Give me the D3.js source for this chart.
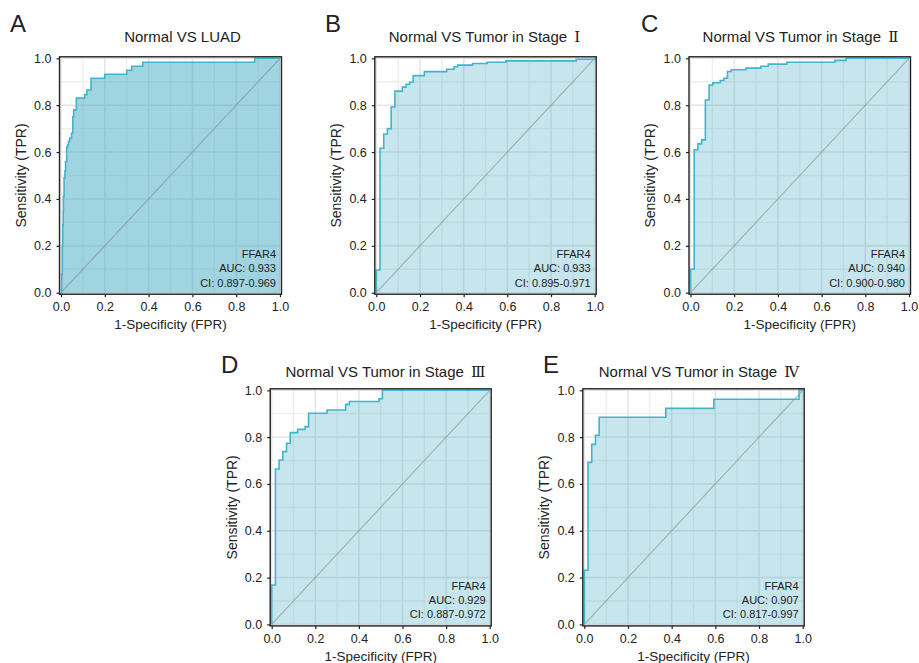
<!DOCTYPE html>
<html>
<head>
<meta charset="utf-8">
<script src="https://cdn.jsdelivr.net/npm/d3@7"></script>
<style>
  body { margin: 0; background: #fff; }
  text { font-family: "Liberation Sans", Arial, Helvetica, sans-serif; fill: #222; }
</style>
</head>
<body>
<div id="chart"></div>
<script>
// ROC panels for FFAR4

const panelLetters = ["A", "B", "C", "D", "E"];
const titleText = ["Normal VS LUAD", "Normal VS Tumor in Stage ", "Normal VS Tumor in Stage ",
                   "Normal VS Tumor in Stage ", "Normal VS Tumor in Stage "];
const stageNumerals = ["", "Ⅰ", "Ⅱ", "Ⅲ", "Ⅳ"];
const geneName = "FFAR4";
const aucValues = ["0.933", "0.933", "0.940", "0.929", "0.907"];
const ciValues = ["0.897-0.969", "0.895-0.971", "0.900-0.980", "0.887-0.972", "0.817-0.997"];

const majorTicks = [0, 0.2, 0.4, 0.6, 0.8, 1.0];
const minorTicks = [0.1, 0.3, 0.5, 0.7, 0.9];

// curve points: at fpr[i] the curve rises to tpr[i] (step after)
const fprA = [0, 0.003, 0.006, 0.008, 0.010, 0.011, 0.014, 0.018, 0.021, 0.026, 0.030, 0.034, 0.040,
              0.048, 0.054, 0.058, 0.070, 0.108, 0.118, 0.137, 0.200, 0.300, 0.323, 0.373, 0.884, 1.0];
const tprA = [0, 0.08, 0.20, 0.29, 0.35, 0.41, 0.49, 0.52, 0.56, 0.62, 0.63, 0.645, 0.66,
              0.68, 0.75, 0.78, 0.83, 0.845, 0.865, 0.915, 0.932, 0.949, 0.966, 0.983, 1.0, 1.0];

const fprB = [0, 0, 0.017, 0.034, 0.051, 0.068, 0.085, 0.119, 0.136, 0.153, 0.169, 0.220, 0.322,
              0.356, 0.373, 0.441, 0.508, 0.593, 0.915, 1.0];
const tprB = [0, 0.097, 0.616, 0.677, 0.700, 0.792, 0.860, 0.877, 0.889, 0.898, 0.926, 0.943, 0.953,
              0.964, 0.971, 0.978, 0.983, 0.989, 0.996, 1.0];

const fprC = [0, 0, 0.017, 0.034, 0.051, 0.068, 0.085, 0.102, 0.136, 0.153, 0.169, 0.186, 0.254,
              0.322, 0.356, 0.441, 0.661, 0.712, 1.0];
const tprC = [0, 0.10, 0.610, 0.635, 0.652, 0.822, 0.886, 0.896, 0.905, 0.915, 0.944, 0.951, 0.958,
              0.966, 0.975, 0.983, 0.991, 1.0, 1.0];

const fprD = [0, 0, 0.017, 0.034, 0.051, 0.068, 0.085, 0.119, 0.153, 0.169, 0.254, 0.339, 0.356,
              0.492, 0.508, 1.0];
const tprD = [0, 0.168, 0.664, 0.702, 0.738, 0.774, 0.819, 0.833, 0.845, 0.902, 0.916, 0.940, 0.952,
              0.964, 1.0, 1.0];

const fprE = [0, 0, 0.017, 0.034, 0.051, 0.068, 0.373, 0.593, 0.983, 1.0];
const tprE = [0, 0.231, 0.692, 0.769, 0.808, 0.885, 0.923, 0.962, 1.0, 1.0];

const fprAll = [fprA, fprB, fprC, fprD, fprE];
const tprAll = [tprA, tprB, tprC, tprD, tprE];

// where each panel sits on the page
const layout = [
  {left: 61,    right: 280,   top: 58.3,  bottom: 292.7, letterX: 10,  letterY: 32.3,  titleX: 182.5, titleY: 42},
  {left: 376.3, right: 594.7, top: 58.3,  bottom: 292.7, letterX: 325, letterY: 32.3,  titleX: 484.5, titleY: 42},
  {left: 690.5, right: 909,   top: 58.3,  bottom: 292.7, letterX: 641, letterY: 32.3,  titleX: 800.5, titleY: 42},
  {left: 271.7, right: 489.7, top: 390.3, bottom: 624.4, letterX: 221, letterY: 372.7, titleX: 385.5, titleY: 376.7},
  {left: 584.3, right: 802.7, top: 390.3, bottom: 624.4, letterX: 543, letterY: 372.7, titleX: 699,   titleY: 377}
];

const fillBase = "#41a9c1";
const fillAlpha = [0.5, 0.3, 0.3, 0.3, 0.3];
const lineColor = "#42b4cc";

const svg = d3.select("#chart").append("svg")
  .attr("width", 919)
  .attr("height", 663);

svg.append("rect").attr("width", 919).attr("height", 663).attr("fill", "#fff");

layout.forEach((p, i) => {
  const x = d3.scaleLinear().domain([0, 1]).range([p.left, p.right]);
  const y = d3.scaleLinear().domain([0, 1]).range([p.bottom, p.top]);
  const pad = 1.5;
  const g = svg.append("g");

  // minor + major grid
  g.selectAll(".vminor").data(minorTicks).enter().append("line")
    .attr("x1", d => x(d)).attr("x2", d => x(d))
    .attr("y1", p.top - pad).attr("y2", p.bottom + pad)
    .attr("stroke", "#eeeeee").attr("stroke-width", 1.3);
  g.selectAll(".hminor").data(minorTicks).enter().append("line")
    .attr("y1", d => y(d)).attr("y2", d => y(d))
    .attr("x1", p.left - pad).attr("x2", p.right + pad)
    .attr("stroke", "#eeeeee").attr("stroke-width", 1.3);
  g.selectAll(".vmajor").data(majorTicks).enter().append("line")
    .attr("x1", d => x(d)).attr("x2", d => x(d))
    .attr("y1", p.top - pad).attr("y2", p.bottom + pad)
    .attr("stroke", "#e4e4e4").attr("stroke-width", 1.5);
  g.selectAll(".hmajor").data(majorTicks).enter().append("line")
    .attr("y1", d => y(d)).attr("y2", d => y(d))
    .attr("x1", p.left - pad).attr("x2", p.right + pad)
    .attr("stroke", "#e4e4e4").attr("stroke-width", 1.5);

  const pts = fprAll[i].map((f, j) => [f, tprAll[i][j]]);

  const area = d3.area()
    .x(d => x(d[0]))
    .y0(y(0))
    .y1(d => y(d[1]))
    .curve(d3.curveStepAfter);

  g.append("path")
    .datum(pts)
    .attr("d", area)
    .attr("fill", fillBase)
    .attr("fill-opacity", fillAlpha[i]);

  // chance line
  g.append("path")
    .datum([[0, 0], [1, 1]])
    .attr("d", d3.line().x(d => x(d[0])).y(d => y(d[1])))
    .attr("stroke", "#808080")
    .attr("stroke-opacity", 0.55)
    .attr("stroke-width", 1.1)
    .attr("fill", "none");

  const line = d3.line()
    .x(d => x(d[0]))
    .y(d => y(d[1]))
    .curve(d3.curveStepAfter);

  g.append("path")
    .datum(pts)
    .attr("d", line)
    .attr("fill", "none")
    .attr("stroke", lineColor)
    .attr("stroke-width", 1.6);

  // border
  g.append("rect")
    .attr("x", p.left - pad).attr("y", p.top - pad)
    .attr("width", p.right - p.left + 2 * pad)
    .attr("height", p.bottom - p.top + 2 * pad)
    .attr("fill", "none")
    .attr("stroke", "#222")
    .attr("stroke-width", 1.4);

  // axes
  const yAxis = g.append("g")
    .attr("transform", `translate(${p.left - pad},0)`)
    .call(d3.axisLeft(y).tickValues(majorTicks).tickFormat(d3.format(".1f")).tickSize(3).tickPadding(5));
  const xAxis = g.append("g")
    .attr("transform", `translate(0,${p.bottom + pad})`)
    .call(d3.axisBottom(x).tickValues(majorTicks).tickFormat(d3.format(".1f")).tickSize(3).tickPadding(5));
  [xAxis, yAxis].forEach(a => {
    a.select(".domain").remove();
    a.selectAll(".tick line").attr("stroke", "#222").attr("stroke-width", 1.2);
    a.selectAll(".tick text").attr("font-size", 12.5).attr("fill", "#222")
      .attr("font-family", "Liberation Sans, Arial, sans-serif");
  });

  // axis titles
  g.append("text")
    .attr("transform", `translate(${p.left - 40},${(p.top + p.bottom) / 2}) rotate(-90)`)
    .attr("text-anchor", "middle")
    .attr("dy", "0.35em")
    .attr("font-size", 14)
    .text("Sensitivity (TPR)");
  g.append("text")
    .attr("x", (p.left + p.right) / 2)
    .attr("y", p.bottom + 36.5)
    .attr("text-anchor", "middle")
    .attr("font-size", 13.5)
    .text("1-Specificity (FPR)");

  // title
  const t = g.append("text")
    .attr("x", p.titleX)
    .attr("y", p.titleY)
    .attr("text-anchor", "middle")
    .attr("font-size", 15)
    .text(titleText[i]);
  if (stageNumerals[i]) {
    t.append("tspan")
      .attr("font-family", "DejaVu Serif, Noto Sans CJK SC")
      .attr("dx", 3)
      .text(stageNumerals[i]);
  }

  // panel letter
  g.append("text")
    .attr("x", p.letterX)
    .attr("y", p.letterY)
    .attr("font-size", 24)
    .text(panelLetters[i]);

  // annotation
  const notes = [geneName, "AUC: " + aucValues[i], "CI: " + ciValues[i]];
  const offs = [34.5, 20.3, 6];
  notes.forEach((n, k) => {
    g.append("text")
      .attr("x", p.right - 4)
      .attr("y", p.bottom - offs[k])
      .attr("text-anchor", "end")
      .attr("font-size", 11)
      .text(n);
  });
});
</script>
</body>
</html>
